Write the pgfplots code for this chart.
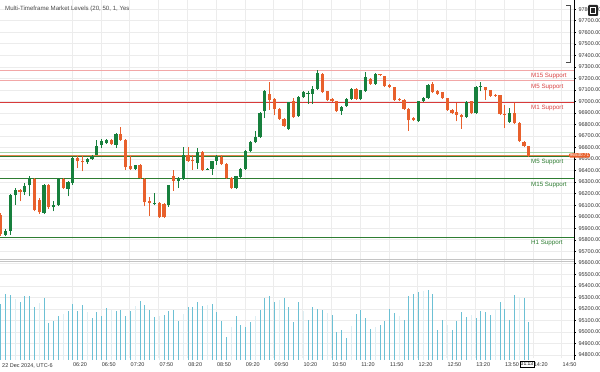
\documentclass[border=0pt]{standalone}
\usepackage{fontspec}
\setmainfont{Liberation Sans}
\usepackage{pgfplots}
\usepackage{pgfplotstable}
\pgfplotsset{compat=1.18}
\definecolor{cup}{HTML}{17803D}
\definecolor{cdn}{HTML}{E8602C}
\definecolor{lred}{HTML}{F2A7A7}
\definecolor{dred}{HTML}{D83A3A}
\definecolor{tred}{HTML}{D94545}
\definecolor{dgreen}{HTML}{2E7D32}
\definecolor{lgreen}{HTML}{A9D4A9}
\definecolor{corange}{HTML}{E0874A}
\definecolor{cvol}{HTML}{6CC0D4}
\definecolor{cvolf}{HTML}{DDEFF4}
\definecolor{cgrid}{HTML}{ECECEC}
\definecolor{cgray}{HTML}{C4C4C4}

\pgfplotstableread{
i o h l c
2 95843 95892 95829 95872
3 95877 96195 95843 96184
4 96184 96248 96103 96228
6 96210 96291 96189 96262
7 96271 96349 96176 96334
10 96033 96282 96022 96271
12 96080 96132 96045 96103
13 96103 96339 96091 96328
15 96241 96308 96176 96300
16 96291 96516 96276 96508
19 96470 96508 96460 96502
20 96502 96534 96495 96528
21 96536 96666 96531 96612
22 96623 96673 96594 96653
23 96638 96673 96629 96666
25 96623 96725 96594 96716
29 96415 96451 96408 96444
33 96113 96204 96097 96122
36 96103 96278 96085 96271
38 96306 96343 96248 96334
39 96328 96601 96321 96531
42 96464 96594 96412 96557
44 96408 96421 96404 96417
45 96412 96486 96363 96479
46 96484 96536 96450 96514
50 96248 96356 96239 96349
51 96340 96421 96334 96412
52 96412 96577 96404 96571
53 96566 96653 96560 96644
54 96644 96742 96638 96690
55 96690 96907 96681 96898
56 96913 97100 96855 97086
61 96762 96998 96755 96991
63 96869 97045 96863 97037
64 97037 97089 97028 97080
65 97063 97086 96979 97076
66 97065 97130 96979 97106
67 97109 97268 97102 97245
72 96913 96959 96883 96950
73 96956 97028 96950 97022
74 97022 97115 97015 97106
76 97022 97102 97015 97095
77 97086 97254 97080 97210
79 97152 97245 97145 97236
88 96826 97006 96820 97000
89 97000 97037 96993 97028
90 97028 97150 97019 97143
98 96863 97002 96855 96993
100 96898 97132 96889 97124
101 97121 97167 97086 97130
107 96820 96941 96811 96898
}\upcandles

\pgfplotstableread{
i o h l c
1 96016 96031 95831 95849
5 96228 96239 96132 96210
8 96326 96339 96045 96059
9 96146 96161 96026 96037
11 96271 96282 96070 96080
14 96328 96339 96239 96248
17 96508 96528 96421 96479
18 96482 96522 96392 96473
24 96666 96673 96625 96632
26 96716 96774 96660 96666
27 96666 96673 96406 96427
28 96436 96522 96406 96415
30 96447 96456 96326 96334
31 96328 96334 96089 96126
32 96132 96169 96007 96117
34 96117 96126 95992 95999
35 96109 96117 95987 95993
37 96349 96406 96224 96311
40 96531 96601 96477 96484
41 96493 96536 96406 96479
43 96560 96568 96399 96406
47 96514 96531 96447 96456
48 96456 96464 96326 96334
49 96334 96343 96239 96248
57 97065 97167 96927 97013
58 97022 97028 96878 96935
59 96935 96941 96842 96849
60 96849 96855 96781 96788
62 97000 97028 96855 96861
68 97239 97245 97071 97080
69 97086 97093 97002 97008
70 97022 97028 96998 97005
71 97000 97006 96907 96913
75 97106 97115 97015 97022
78 97196 97202 97145 97152
80 97235 97241 97219 97226
81 97216 97223 97124 97130
82 97143 97150 97115 97121
83 97121 97128 97006 97013
84 97022 97028 97002 97008
85 97013 97019 96928 96935
86 96935 96941 96744 96835
87 96855 96863 96829 96835
91 97150 97167 97071 97080
92 97091 97098 97057 97063
93 97078 97085 97019 97028
94 97028 97032 96920 96927
95 96927 96933 96889 96898
96 96907 96985 96826 96883
97 96883 96889 96762 96863
99 97000 97006 96889 96898
102 97124 97128 97013 97095
103 97095 97102 97041 97048
104 97057 97063 97041 97048
105 97052 97059 96881 96889
106 96892 96970 96768 96883
108 96898 96985 96803 96811
109 96811 96820 96646 96653
110 96646 96655 96603 96609
111 96609 96616 96516 96528
}\dncandles

\pgfplotstableread{
i v
1 56
2 66
3 65
5 58
6 64
7 64
8 53
10 62
11 37
12 39
13 44
15 49
16 56
17 49
18 55
20 42
21 48
22 44
23 52
25 49
26 50
27 44
28 49
30 59
31 55
32 50
33 43
35 45
36 49
37 50
38 39
40 53
41 53
42 58
43 54
45 56
46 48
47 39
48 23
50 44
51 35
52 33
53 38
55 50
56 62
57 64
58 58
60 62
61 53
62 38
63 58
65 40
66 53
67 51
68 50
70 45
71 28
72 30
73 22
75 46
76 50
77 42
78 31
80 35
81 39
82 51
83 47
85 40
86 64
87 66
88 68
90 70
91 66
92 30
93 40
95 30
96 39
97 48
98 43
100 42
101 49
102 48
103 45
105 58
106 51
107 40
108 65
110 62
111 38
}\volstrong

\pgfplotstableread{
i v
4 61
9 57
14 46
19 48
24 50
29 54
34 44
39 46
44 55
49 33
54 44
59 60
64 49
69 47
74 34
79 33
84 44
89 69
94 35
99 45
104 51
109 63
}\volfaint

\newcommand{\tf}{\fontsize{5.5}{6.5}\selectfont}
\newcommand{\lf}{\fontsize{6.2}{7}\selectfont}

\begin{document}
\begin{tikzpicture}[x=1pt,y=1pt]
\path[use as bounding box] (0,0) rectangle (600,372);
\fill[white] (0,0) rectangle (600,372);

% price pane
\begin{axis}[at={(0,12)}, anchor=south west, scale only axis,
  width=574pt, height=360pt,
  xmin=0.8333, xmax=120.4167, ymin=94773, ymax=97895,
  axis line style={draw=none},
  ytick distance=100, scaled y ticks=false,
  ymajorgrids=true,
  major grid style={cgrid, line width=0.5pt},
  ytick pos=right, yticklabel pos=right,
  tick align=outside, major tick length=2pt,
  ytick style={draw=black, line width=0.4pt},
  yticklabel style={font=\tf, text=black!80, anchor=west, xshift=-1pt,
    /pgf/number format/.cd, fixed, fixed zerofill, precision=2, 1000 sep={}, assume math mode=true},
  xtick={17.5,23.5,...,119.5},
  xticklabels={06:20,06:50,07:20,07:50,08:20,08:50,09:20,09:50,10:20,10:50,11:20,11:50,12:20,12:50,13:20,13:50,14:20,14:50},
  xtick style={draw=none},
  xticklabel style={font=\tf, text=black!80, yshift=1pt},
  xtick pos=bottom,
  extra x ticks={15.8333,21.8333,...,117.8333},
  extra x tick labels={},
  extra x tick style={grid=major, tick style={draw=black, line width=0.4pt}},
  ]
% level lines
\addplot[lred, line width=1pt] coordinates {(0.8333,97270) (120.4167,97270)};
\addplot[lred, line width=1pt] coordinates {(0.8333,97180) (120.4167,97180)};
\addplot[dred, line width=0.9pt] coordinates {(0.8333,96992) (120.4167,96992)};
\addplot[lgreen, line width=1pt] coordinates {(0.8333,96556) (120.4167,96556)};
\addplot[dgreen, line width=0.9pt] coordinates {(0.8333,96519) (120.4167,96519)};
\addplot[corange, line width=0.8pt] coordinates {(0.8333,96531) (120.4167,96531)};
\addplot[dgreen, line width=0.9pt] coordinates {(0.8333,96333) (120.4167,96333)};
\addplot[dgreen, line width=0.9pt] coordinates {(0.8333,95821) (120.4167,95821)};
\addplot[cgray, line width=0.6pt] coordinates {(0.8333,95632) (120.4167,95632)};
\addplot[cgray, line width=0.6pt] coordinates {(0.8333,95615) (120.4167,95615)};

% wicks
\addplot[draw=none, mark=none, forget plot,
  error bars/.cd, y dir=plus, y explicit, error mark=none,
  error bar style={draw=cup, line width=0.8pt}]
  table[x=i, y=l, y error expr={\thisrow{h}-\thisrow{l}}] {\upcandles};
\addplot[draw=none, mark=none, forget plot,
  error bars/.cd, y dir=plus, y explicit, error mark=none,
  error bar style={draw=cdn, line width=0.8pt}]
  table[x=i, y=l, y error expr={\thisrow{h}-\thisrow{l}}] {\dncandles};
% bodies
\addplot[draw=none, mark=none, forget plot,
  error bars/.cd, y dir=plus, y explicit, error mark=none,
  error bar style={draw=cup, line width=3.3pt}]
  table[x=i, y expr={min(\thisrow{o},\thisrow{c})}, y error expr={max(abs(\thisrow{c}-\thisrow{o}),9)}] {\upcandles};
\addplot[draw=none, mark=none, forget plot,
  error bars/.cd, y dir=plus, y explicit, error mark=none,
  error bar style={draw=cdn, line width=3.3pt}]
  table[x=i, y expr={min(\thisrow{o},\thisrow{c})}, y error expr={max(abs(\thisrow{c}-\thisrow{o}),9)}] {\dncandles};

% level labels
\node[anchor=west, font=\lf, text=tred, inner sep=0pt] at (axis cs:111.46,97219) {M15 Support};
\node[anchor=west, font=\lf, text=tred, inner sep=0pt] at (axis cs:111.46,97124) {M5 Support};
\node[anchor=west, font=\lf, text=tred, inner sep=0pt] at (axis cs:111.46,96941) {M1 Support};
\node[anchor=west, font=\lf, text=dgreen, inner sep=0pt] at (axis cs:111.46,96473) {M5 Support};
\node[anchor=west, font=\lf, text=dgreen, inner sep=0pt] at (axis cs:111.46,96276) {M15 Support};
\node[anchor=west, font=\lf, text=dgreen, inner sep=0pt] at (axis cs:111.46,95768) {H1 Support};
\end{axis}

% volume pane (overlay)
\begin{axis}[at={(0,12)}, anchor=south west, scale only axis,
  width=574pt, height=360pt,
  xmin=0.8333, xmax=120.4167, ymin=0, ymax=360,
  hide axis]
\addplot[ycomb, cvolf, line width=0.9pt] table[x=i, y=v] {\volfaint};
\addplot[ycomb, cvol, line width=0.9pt] table[x=i, y=v] {\volstrong};
\end{axis}

% price axis line
\draw[black, line width=0.5pt] (574,12) -- (574,372);
% title
\node[anchor=west, font=\fontsize{6.1}{7}\selectfont, text=black!70, inner sep=0pt] at (5,363) {Multi-Timeframe Market Levels (20, 50, 1, Yes};
% day label
\node[anchor=west, font=\tf, text=black!80, inner sep=0pt] at (2,6) {22 Dec 2024, UTC-6};
% current price tag
\node[anchor=west, fill=cdn, text=white, font=\fontsize{4.6}{5}\selectfont, inner sep=0.7pt, rounded corners=1.2pt] at (569,216.6) {96530.71};
% time box
\node[draw=black, fill=white, font=\fontsize{5}{6}\selectfont, inner sep=1pt, line width=0.4pt] at (527,8) {01:13};
% top-right widgets
\draw[black!70, line width=0.5pt] (566,367) -- (570,367) -- (570,310) -- (566,310);
\fill[black!85, rounded corners=1pt] (588,356) rectangle (598,367);
\draw[white, line width=0.5pt] (590.5,358.5) rectangle (595.5,364.5);
\end{tikzpicture}
\end{document}
